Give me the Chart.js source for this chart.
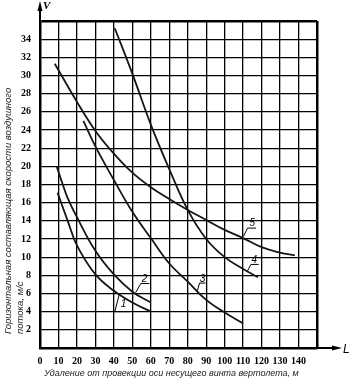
<!DOCTYPE html>
<html>
<head>
<meta charset="utf-8">
<script src="https://cdn.jsdelivr.net/npm/chart.js@4"></script>
<style>
  html, body { margin: 0; padding: 0; background: #fff; }
  #wrap { width: 351px; height: 381px; }
</style>
</head>
<body>
<div id="wrap"><canvas id="grafica" width="351" height="381"></canvas></div>
<script>
// datos
const curva1X = [9.5, 15, 20, 30, 40, 50, 60];
const curva1Y = [17.1, 14.0, 11.3, 8.1, 6.3, 5.0, 4.0];

const curva2X = [9.0, 12, 15, 20, 30, 40, 50, 60];
const curva2Y = [20.0, 18.2, 16.5, 14.4, 10.7, 8.1, 6.2, 5.0];

const curva3X = [23.5, 30, 40, 50, 60, 70, 80, 90, 100, 110];
const curva3Y = [25.0, 22.2, 18.5, 15.0, 12.1, 9.3, 7.3, 5.3, 3.9, 2.7];

const curva4X = [40.5, 50, 60, 70, 80, 90, 100, 110, 118];
const curva4Y = [35.2, 30.2, 24.6, 19.7, 15.2, 12.0, 10.0, 8.7, 7.8];

const curva5X = [8, 20, 30, 40, 50, 60, 70, 80, 90, 100, 110, 120, 130, 138];
const curva5Y = [31.3, 27.1, 23.9, 21.4, 19.3, 17.7, 16.4, 15.2, 14.1, 13.0, 12.1, 11.1, 10.5, 10.2];

const nombresCurvas = ['1', '2', '3', '4', '5'];
const ticksX = [0, 10, 20, 30, 40, 50, 60, 70, 80, 90, 100, 110, 120, 130, 140];
const ticksY = [2, 4, 6, 8, 10, 12, 14, 16, 18, 20, 22, 24, 26, 28, 30, 32, 34];

const tituloY1 = 'Горизонтальная составляющая скорости воздушного';
const tituloY2 = 'потока, м/с';
const tituloX = 'Удаление от провекции оси несущего винта вертолета, м';

// donde van los numeros de cada curva (en unidades del grafico)
const marcas = [
  { txt: '1', curva: [42.9, 5.9], base: [40.5, 4.0], fin: 48.6, texto: [45.2, 4.8] },
  { txt: '2', curva: [51.8, 6.1], base: [54.6, 7.1], fin: 59.3, texto: [56.6, 7.6] },
  { txt: '3', curva: [85.2, 6.3], base: [86.4, 7.15], fin: 89.6, texto: [88.0, 7.6] },
  { txt: '4', curva: [112.4, 8.5], base: [114.2, 9.2], fin: 118.4, texto: [116.0, 9.7] },
  { txt: '5', curva: [110.2, 12.3], base: [112.4, 13.2], fin: 117.0, texto: [115.0, 13.7] }
];

const todasX = [curva1X, curva2X, curva3X, curva4X, curva5X];
const todasY = [curva1Y, curva2Y, curva3Y, curva4Y, curva5Y];

const datasets = todasX.map((xs, i) => ({
  label: nombresCurvas[i],
  data: xs.map((x, j) => ({ x: x, y: todasY[i][j] })),
  borderColor: '#161616',
  borderWidth: 1.8,
  pointRadius: 0,
  fill: false,
  tension: 0.4
}));

const extras = {
  id: 'extras',
  afterDraw(chart) {
    const ctx = chart.ctx;
    const sx = chart.scales.x;
    const sy = chart.scales.y;
    const a = chart.chartArea;
    ctx.save();
    ctx.strokeStyle = '#000';
    ctx.fillStyle = '#000';

    // flecha del eje V
    ctx.lineWidth = 2;
    ctx.beginPath();
    ctx.moveTo(a.left, a.top);
    ctx.lineTo(a.left, 6);
    ctx.stroke();
    ctx.beginPath();
    ctx.moveTo(a.left, 1);
    ctx.lineTo(a.left - 2.5, 11);
    ctx.lineTo(a.left + 2.5, 11);
    ctx.closePath();
    ctx.fill();

    // flecha del eje L
    ctx.beginPath();
    ctx.moveTo(a.right, a.bottom);
    ctx.lineTo(336, a.bottom);
    ctx.stroke();
    ctx.beginPath();
    ctx.moveTo(342, a.bottom);
    ctx.lineTo(332, a.bottom - 2.5);
    ctx.lineTo(332, a.bottom + 2.5);
    ctx.closePath();
    ctx.fill();

    ctx.font = 'bold italic 11px "Liberation Serif"';
    ctx.textAlign = 'left';
    ctx.textBaseline = 'middle';
    ctx.fillText('V', a.left + 3, 6);
    ctx.font = 'italic 12px "Liberation Sans"';
    ctx.fillText('L', 343, a.bottom + 2);

    // titulos
    ctx.font = 'italic 9.5px "Liberation Sans"';
    ctx.fillStyle = '#222';
    ctx.save();
    ctx.translate(8, 334);
    ctx.rotate(-Math.PI / 2);
    ctx.textAlign = 'left';
    ctx.fillText(tituloY1, 0, 0);
    ctx.fillText(tituloY2, 0, 12);
    ctx.restore();

    ctx.font = 'italic 9px "Liberation Sans"';
    ctx.textAlign = 'center';
    ctx.fillText(tituloX, 171.5, 373);

    // numeros de las curvas
    ctx.fillStyle = '#000';
    ctx.lineWidth = 1;
    ctx.font = 'italic 10px "Liberation Sans"';
    ctx.textBaseline = 'middle';
    marcas.forEach(m => {
      const x1 = sx.getPixelForValue(m.curva[0]);
      const y1 = sy.getPixelForValue(m.curva[1]);
      const x2 = sx.getPixelForValue(m.base[0]);
      const y2 = sy.getPixelForValue(m.base[1]);
      const x3 = sx.getPixelForValue(m.fin);
      ctx.beginPath();
      ctx.moveTo(x1, y1);
      ctx.lineTo(x2, y2);
      ctx.lineTo(x3, y2);
      ctx.stroke();
      ctx.fillText(m.txt, sx.getPixelForValue(m.texto[0]), sy.getPixelForValue(m.texto[1]));
    });
    ctx.restore();
  }
};

const ctx = document.getElementById('grafica').getContext('2d');
new Chart(ctx, {
  type: 'line',
  data: { datasets: datasets },
  options: {
    responsive: false,
    animation: false,
    layout: { padding: { left: 0, top: 21, right: 34, bottom: 0 } },
    plugins: {
      legend: { display: false },
      tooltip: { enabled: false }
    },
    scales: {
      x: {
        type: 'linear',
        min: 0,
        max: 150,
        afterBuildTicks: s => { s.ticks = ticksX.concat([150]).map(v => ({ value: v })); },
        afterFit: s => { s.height = 33; },
        ticks: {
          autoSkip: false,
          maxRotation: 0,
          minRotation: 0,
          padding: 7,
          color: '#000',
          font: { family: '"Liberation Serif"', size: 10, weight: 'bold' },
          callback: v => (ticksX.includes(v) ? String(v) : '')
        },
        grid: {
          color: '#000',
          lineWidth: c => (c.tick && c.tick.value === 150 ? 2.5 : 1.3),
          drawTicks: false
        },
        border: { display: true, color: '#000', width: 2.5 }
      },
      y: {
        min: 0,
        max: 36,
        afterBuildTicks: s => { s.ticks = [0].concat(ticksY, [36]).map(v => ({ value: v })); },
        afterFit: s => { s.width = 40; },
        ticks: {
          autoSkip: false,
          padding: 9,
          color: '#000',
          font: { family: '"Liberation Serif"', size: 10, weight: 'bold' },
          callback: v => (ticksY.includes(v) ? String(v) : '')
        },
        grid: {
          color: '#000',
          lineWidth: c => (c.tick && c.tick.value === 36 ? 2.5 : 1.3),
          drawTicks: false
        },
        border: { display: true, color: '#000', width: 2.5 }
      }
    }
  },
  plugins: [extras]
});
</script>
</body>
</html>
